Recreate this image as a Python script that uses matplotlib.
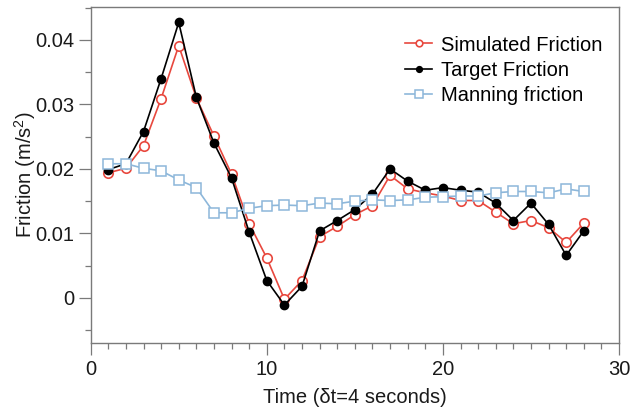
import matplotlib
matplotlib.use("Agg")
import matplotlib.pyplot as plt
from matplotlib.ticker import MultipleLocator, FuncFormatter

plt.rcParams['font.family'] = ['Liberation Sans', 'DejaVu Sans']
plt.rcParams['mathtext.fontset'] = 'custom'
plt.rcParams['mathtext.rm'] = 'Liberation Sans'
plt.rcParams['mathtext.it'] = 'Liberation Sans'

time = list(range(1, 29))
simulated = [0.0194, 0.0201, 0.0236, 0.0309, 0.0391, 0.0310, 0.0251, 0.0192, 0.0115, 0.0062,
             -0.0002, 0.0027, 0.0095, 0.0111, 0.0129, 0.0143, 0.0190, 0.0169, 0.0163, 0.0158,
             0.0151, 0.0151, 0.0133, 0.0115, 0.0120, 0.0109, 0.0086, 0.0116]
target = [0.0199, 0.0208, 0.0258, 0.0340, 0.0427, 0.0311, 0.0240, 0.0186, 0.0102, 0.0027,
          -0.0011, 0.0018, 0.0104, 0.0120, 0.0137, 0.0161, 0.0200, 0.0181, 0.0167, 0.0171,
          0.0167, 0.0164, 0.0147, 0.0120, 0.0147, 0.0114, 0.0066, 0.0104]
manning = [0.0208, 0.0208, 0.0201, 0.0197, 0.0183, 0.0171, 0.0132, 0.0132, 0.0139, 0.0143,
           0.0144, 0.0143, 0.0147, 0.0146, 0.0150, 0.0152, 0.0151, 0.0152, 0.0156, 0.0157,
           0.0158, 0.0158, 0.0163, 0.0165, 0.0165, 0.0163, 0.0169, 0.0165]

fig = plt.figure(figsize=(6.31, 4.11), dpi=100)
ax = fig.add_axes([0.1437, 0.1655, 0.981 - 0.1437, 0.983 - 0.1655])

red = '#e8483e'
blue = '#8db7da'
ax.plot(time, simulated, color=red, lw=1.2, marker='o', ms=6.8, mfc='white', mec=red, mew=1.2,
        label='Simulated Friction')
ax.plot(time, target, color='black', lw=1.2, marker='o', ms=6.0, mfc='black', mec='black',
        label='Target Friction')
ax.plot(time, manning, color=blue, lw=1.2, marker='s', ms=7.4, mfc='white', mec=blue, mew=1.1,
        label='Manning friction')

ax.set_xlim(0, 30)
ax.set_ylim(-0.00698, 0.0451)
ax.xaxis.set_major_locator(MultipleLocator(10))
ax.xaxis.set_minor_locator(MultipleLocator(1))
ax.yaxis.set_major_locator(MultipleLocator(0.01))
ax.yaxis.set_minor_locator(MultipleLocator(0.005))
ax.yaxis.set_major_formatter(FuncFormatter(lambda v, p: '0' if abs(v) < 1e-9 else f'{v:.2f}'))

for s in ax.spines.values():
    s.set_color('#7a7a7a')
    s.set_linewidth(1.0)
ax.tick_params(which='major', length=8.5, width=0.9, color='#7a7a7a', labelsize=14.5,
               labelcolor='#1a1a1a', pad=3.5)
ax.tick_params(which='minor', length=4.3, width=0.9, color='#7a7a7a')

ax.set_xlabel('Time (δt=4 seconds)', fontsize=14.5, color='#1a1a1a', labelpad=7)
ax.set_ylabel('Friction (m/s$^2$)', fontsize=14.5, color='#1a1a1a', labelpad=-2)

leg = ax.legend(loc='upper left', frameon=False, fontsize=14.5, handlelength=1.35,
                handletextpad=0.45, labelspacing=0.32, markerscale=0.7,
                bbox_to_anchor=(0.595, 0.915), borderaxespad=0, borderpad=0)

fig.savefig('out.png', dpi=100)
